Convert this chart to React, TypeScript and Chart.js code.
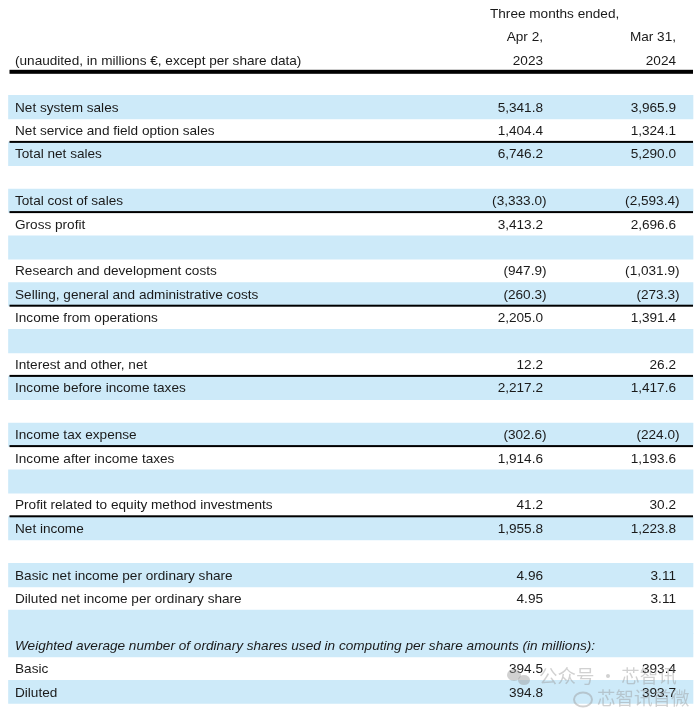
import React, { useEffect, useRef } from 'react';
import { Chart, registerables } from 'chart.js';

Chart.register(...registerables);

// ---- Data ----
const headerTitle = 'Three months ended,';
const headerDates = ['Apr 2,', 'Mar 31,'];
const headerYears = ['2023', '2024'];
const headerNote = '(unaudited, in millions €, except per share data)';

const rowLabels: string[] = [
  '',
  'Net system sales',
  'Net service and field option sales',
  'Total net sales',
  '',
  'Total cost of sales',
  'Gross profit',
  '',
  'Research and development costs',
  'Selling, general and administrative costs',
  'Income from operations',
  '',
  'Interest and other, net',
  'Income before income taxes',
  '',
  'Income tax expense',
  'Income after income taxes',
  '',
  'Profit related to equity method investments',
  'Net income',
  '',
  'Basic net income per ordinary share',
  'Diluted net income per ordinary share',
  '',
  'Weighted average number of ordinary shares used in computing per share amounts (in millions):',
  'Basic',
  'Diluted',
];

const values2023: (number | null)[] = [
  null, 5341.8, 1404.4, 6746.2, null, -3333.0, 3413.2, null, -947.9, -260.3, 2205.0, null,
  12.2, 2217.2, null, -302.6, 1914.6, null, 41.2, 1955.8, null, 4.96, 4.95, null, null, 394.5, 394.8,
];

const values2024: (number | null)[] = [
  null, 3965.9, 1324.1, 5290.0, null, -2593.4, 2696.6, null, -1031.9, -273.3, 1391.4, null,
  26.2, 1417.6, null, -224.0, 1193.6, null, 30.2, 1223.8, null, 3.11, 3.11, null, null, 393.4, 393.7,
];

const decimals: number[] = [
  1, 1, 1, 1, 1, 1, 1, 1, 1, 1, 1, 1, 1, 1, 1, 1, 1, 1, 1, 1, 1, 2, 2, 1, 1, 1, 1,
];

const shaded: boolean[] = [
  false, true, false, true, false, true, false, true, false, true, false, true, false, true,
  false, true, false, true, false, true, false, true, false, true, true, false, true,
];

const ruleAbove: boolean[] = [
  false, false, false, true, false, false, true, false, false, false, true, false, false, true,
  false, false, true, false, false, true, false, false, false, false, false, false, false,
];

const italicRow: boolean[] = rowLabels.map((_, i) => i === 24);

const watermarkLines = ['公众号 · 芯智讯', '芯智讯首微'];

// ---- Layout constants (x-scale units = pixels 0..700) ----
const HEADER_ROWS = 3;
const LABEL_X = 15;
const COL_X = [543, 676];
const TITLE_X = 490;
const BAND = [8.5, 693];
const FONT = "'Liberation Sans', Arial, Helvetica, sans-serif";
const FONT_SIZE = 13.6;
const TEXT_COLOR = '#1a1a1a';
const BLUE = '#cdeaf9';

function fmt(v: number | null, d: number): string {
  if (v === null) return '';
  const s = Math.abs(v).toLocaleString('en-US', { minimumFractionDigits: d, maximumFractionDigits: d });
  return v < 0 ? '(' + s + ')' : s;
}

const allLabels = ['h0', 'h1', 'h2', ...rowLabels.map((l, i) => 'r' + i)];

const tablePlugin = {
  id: 'tableText',
  afterDatasetsDraw(chart: any) {
    const ctx = chart.ctx as CanvasRenderingContext2D;
    const x = chart.scales.x;
    const y = chart.scales.y;
    const rowH = y.getPixelForValue(1) - y.getPixelForValue(0);
    const yTop = (i: number) => y.getPixelForValue(i) - rowH / 2;
    const base = (i: number) => y.getPixelForValue(i) + 4.4;
    ctx.save();

    // rules
    ctx.fillStyle = '#000';
    const bx0 = x.getPixelForValue(BAND[0]) + 1;
    const bx1 = x.getPixelForValue(BAND[1]);
    const thickY = yTop(HEADER_ROWS);
    ctx.fillRect(bx0, thickY - 2.2, bx1 - bx0, 4);
    ruleAbove.forEach((r, i) => {
      if (!r) return;
      const ry = yTop(HEADER_ROWS + i);
      ctx.fillRect(bx0, ry - 1.3, bx1 - bx0, 2);
    });

    // header text
    ctx.fillStyle = TEXT_COLOR;
    ctx.font = `${FONT_SIZE}px ${FONT}`;
    ctx.textAlign = 'left';
    ctx.fillText(headerTitle, x.getPixelForValue(TITLE_X), base(0));
    ctx.textAlign = 'right';
    headerDates.forEach((t, c) => ctx.fillText(t, x.getPixelForValue(COL_X[c]), base(1)));
    headerYears.forEach((t, c) => ctx.fillText(t, x.getPixelForValue(COL_X[c]), base(2)));
    ctx.textAlign = 'left';
    ctx.fillText(headerNote, x.getPixelForValue(LABEL_X), base(2));

    // body
    const parenW = ctx.measureText(')').width;
    rowLabels.forEach((label, i) => {
      const yi = base(HEADER_ROWS + i);
      ctx.font = `${italicRow[i] ? 'italic ' : ''}${FONT_SIZE}px ${FONT}`;
      ctx.textAlign = 'left';
      if (label) ctx.fillText(label, x.getPixelForValue(LABEL_X), yi);
      ctx.font = `${FONT_SIZE}px ${FONT}`;
      ctx.textAlign = 'right';
      [values2023[i], values2024[i]].forEach((v, c) => {
        if (v === null) return;
        const s = fmt(v, decimals[i]);
        const px = x.getPixelForValue(COL_X[c]) + (v < 0 ? parenW - 1 : 0);
        ctx.fillText(s, px, yi);
      });
    });

    // watermark
    ctx.globalAlpha = 0.45;
    ctx.fillStyle = '#9a9a9a';
    const wy1 = base(HEADER_ROWS + 25) + 10;
    const wy2 = base(HEADER_ROWS + 26) + 8;
    ctx.beginPath();
    ctx.ellipse(x.getPixelForValue(514), wy1 - 8, 7, 6, 0, 0, Math.PI * 2);
    ctx.fill();
    ctx.beginPath();
    ctx.ellipse(x.getPixelForValue(524), wy1 - 3, 6, 5, 0, 0, Math.PI * 2);
    ctx.fill();
    ctx.font = `18.5px 'Noto Sans CJK SC', sans-serif`;
    ctx.textAlign = 'left';
    ctx.fillText(watermarkLines[0], x.getPixelForValue(539), wy1);
    ctx.lineWidth = 2;
    ctx.strokeStyle = '#9a9a9a';
    ctx.beginPath();
    ctx.ellipse(x.getPixelForValue(583), wy2 - 5, 9, 7, 0, 0, Math.PI * 2);
    ctx.stroke();
    ctx.fillText(watermarkLines[1], x.getPixelForValue(597), wy2);
    ctx.restore();
  },
};

export default function App() {
  const ref = useRef<HTMLCanvasElement | null>(null);

  useEffect(() => {
    if (!ref.current) return;
    const bandData = [null, null, null, ...shaded.map((s) => (s ? BAND : null))];
    const chart = new Chart(ref.current, {
      type: 'bar',
      data: {
        labels: allLabels,
        datasets: [
          {
            data: bandData as any,
            backgroundColor: BLUE,
            borderWidth: 0,
            barPercentage: 1,
            categoryPercentage: 1,
          },
        ],
      },
      options: {
        indexAxis: 'y',
        responsive: false,
        maintainAspectRatio: false,
        animation: false,
        layout: { padding: { top: 1.8, bottom: 8.2, left: 0, right: 0 } },
        plugins: { legend: { display: false }, tooltip: { enabled: false } },
        events: [],
        scales: {
          x: { type: 'linear', min: 0, max: 700, display: false },
          y: { type: 'category', display: false, offset: true, grid: { display: false } },
        },
      },
      plugins: [tablePlugin],
    });
    return () => chart.destroy();
  }, []);

  return (
    <div style={{ position: 'absolute', left: 0, top: 0, width: 700, height: 712, background: '#fff' }}>
      <canvas ref={ref} width={700} height={712} style={{ display: 'block', width: 700, height: 712 }} />
    </div>
  );
}
